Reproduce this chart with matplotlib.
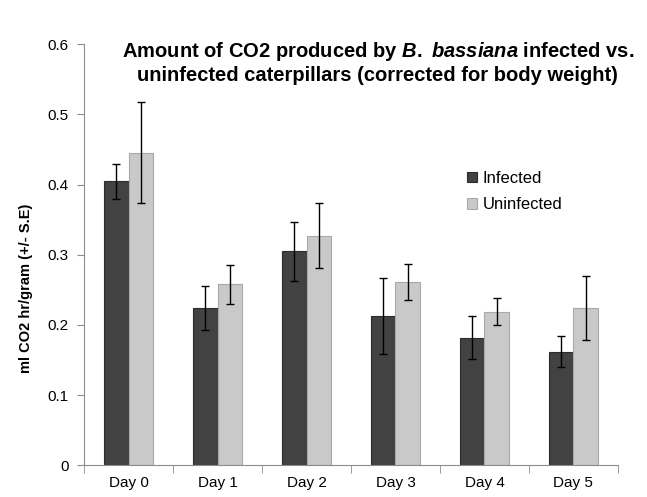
import numpy as np
import matplotlib
matplotlib.use('Agg')
import matplotlib.pyplot as plt

plt.rcParams['font.family'] = ['Liberation Sans', 'DejaVu Sans']
plt.rcParams['mathtext.fontset'] = 'custom'
plt.rcParams['mathtext.it'] = 'Liberation Sans:italic:bold'
plt.rcParams['mathtext.rm'] = 'Liberation Sans:bold'

days = ['Day 0', 'Day 1', 'Day 2', 'Day 3', 'Day 4', 'Day 5']
infected = [0.405, 0.224, 0.305, 0.213, 0.182, 0.162]
infected_se = [0.025, 0.032, 0.042, 0.054, 0.030, 0.022]
uninfected = [0.445, 0.258, 0.327, 0.261, 0.219, 0.224]
uninfected_se = [0.072, 0.028, 0.046, 0.026, 0.019, 0.045]

fig = plt.figure(figsize=(6.47, 4.97), dpi=100)
ax = fig.add_axes([0.13, 0.064, 0.825, 0.847])

x = np.arange(len(days))
w = 0.275
ax.bar(x - w / 2, infected, w, color='#424242', edgecolor='#2c2c2c', linewidth=0.8,
       yerr=infected_se, capsize=3, error_kw=dict(ecolor='black', elinewidth=1, capthick=1),
       label='Infected', zorder=2)
ax.bar(x + w / 2, uninfected, w, color='#c9c9c9', edgecolor='#a8a8a8', linewidth=0.8,
       yerr=uninfected_se, capsize=3, error_kw=dict(ecolor='black', elinewidth=1, capthick=1),
       label='Uninfected', zorder=2)

ax.set_xlim(-0.5, len(days) - 0.5)
ax.set_ylim(0, 0.6)
ax.set_yticks([0, 0.1, 0.2, 0.3, 0.4, 0.5, 0.6])
ax.set_yticklabels(['0', '0.1', '0.2', '0.3', '0.4', '0.5', '0.6'], fontsize=11)
ax.set_xticks(x)
ax.set_xticklabels(days, fontsize=11)
ax.set_xticks(np.arange(-0.5, len(days)), minor=True)
ax.tick_params(axis='x', which='major', length=0, pad=8)
ax.tick_params(axis='x', which='minor', length=6, color='#8c8c8c')
ax.tick_params(axis='y', length=5, color='#8c8c8c', pad=6)

for s in ['top', 'right']:
    ax.spines[s].set_visible(False)
ax.spines['left'].set_color('#8c8c8c')
ax.spines['bottom'].set_color('#8c8c8c')

fig.text(0.04, 0.42, 'ml CO2 hr/gram (+/- S.E)', rotation=90, ha='center', va='center',
         fontsize=10.5, fontweight='bold')

fig.text(0.584, 0.874, 'Amount of CO2 produced by $B.\\ bassiana$ infected vs.\nuninfected caterpillars (corrected for body weight)',
         ha='center', va='center', fontsize=14.5, fontweight='bold', linespacing=1.25)

ax.legend(loc='upper left', bbox_to_anchor=(0.69, 0.735), frameon=False, fontsize=12,
          handlelength=0.6, handleheight=0.6, handletextpad=0.3, labelspacing=0.7)

fig.savefig('out.png', dpi=100)
